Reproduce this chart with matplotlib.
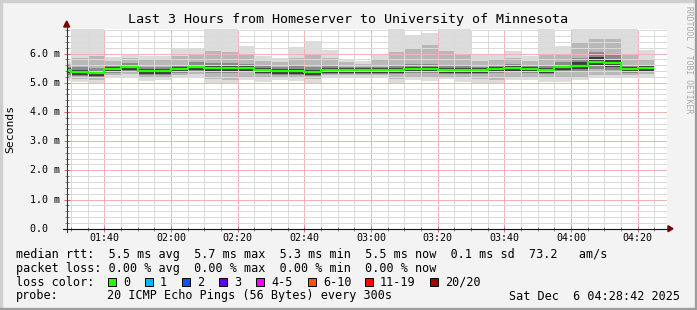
import numpy as np
import matplotlib.pyplot as plt
from matplotlib.patches import Rectangle, Polygon

W, H = 697, 310

# 5 minute steps, minutes after 01:30 (step k covers edges[k]..edges[k+1])
edges = np.arange(-5, 176, 5)

# round trip times in ms
median = [5.42, 5.38, 5.34, 5.47, 5.55, 5.40, 5.40, 5.47, 5.55, 5.49, 5.49, 5.51,
          5.43, 5.41, 5.41, 5.37, 5.43, 5.43, 5.43, 5.43, 5.43, 5.47, 5.47, 5.43,
          5.43, 5.43, 5.47, 5.50, 5.47, 5.43, 5.54, 5.58, 5.72, 5.69, 5.47, 5.51]
ping_min = [5.05, 5.03, 5.00, 5.20, 5.20, 5.06, 5.09, 5.20, 5.20, 5.00, 4.98, 5.10,
            5.03, 5.09, 5.06, 5.00, 5.20, 5.15, 5.15, 5.20, 5.00, 5.09, 5.06, 5.12,
            5.03, 5.00, 4.98, 5.09, 5.10, 5.03, 5.03, 5.09, 5.15, 5.15, 5.20, 5.20]
ping_max = [5.75, 6.90, 6.90, 5.87, 6.00, 5.93, 5.93, 6.14, 6.14, 6.90, 6.90, 6.26,
            5.91, 5.85, 6.23, 6.43, 6.12, 5.80, 5.75, 6.00, 6.90, 6.63, 6.69, 6.90,
            6.90, 5.95, 6.00, 6.08, 5.90, 6.90, 6.26, 6.90, 6.90, 6.90, 6.90, 6.12]
ping_low = [5.15, 5.12, 5.10, 5.28, 5.30, 5.15, 5.18, 5.28, 5.30, 5.12, 5.10, 5.20,
            5.15, 5.18, 5.15, 5.12, 5.27, 5.25, 5.25, 5.28, 5.12, 5.18, 5.15, 5.20,
            5.15, 5.12, 5.10, 5.18, 5.20, 5.15, 5.15, 5.20, 5.25, 5.25, 5.28, 5.30]
ping_high = [5.65, 5.85, 5.90, 5.75, 5.85, 5.80, 5.80, 5.90, 5.95, 6.10, 6.05, 5.95,
             5.75, 5.70, 5.85, 5.95, 5.85, 5.70, 5.65, 5.80, 6.05, 6.20, 6.30, 6.10,
             6.00, 5.75, 5.80, 5.85, 5.75, 6.00, 5.95, 6.35, 6.50, 6.50, 6.00, 5.80]
q_low = [5.28, 5.24, 5.20, 5.34, 5.41, 5.26, 5.26, 5.34, 5.41, 5.34, 5.34, 5.36,
         5.29, 5.28, 5.26, 5.23, 5.30, 5.30, 5.30, 5.31, 5.29, 5.32, 5.32, 5.30,
         5.29, 5.29, 5.32, 5.36, 5.33, 5.29, 5.38, 5.41, 5.46, 5.44, 5.34, 5.38]
q_high = [5.55, 5.55, 5.52, 5.60, 5.68, 5.55, 5.55, 5.62, 5.70, 5.68, 5.66, 5.65,
          5.56, 5.54, 5.56, 5.55, 5.56, 5.54, 5.54, 5.55, 5.60, 5.65, 5.65, 5.60,
          5.58, 5.55, 5.60, 5.64, 5.60, 5.60, 5.70, 5.85, 6.05, 6.00, 5.62, 5.62]
core_low = [5.32, 5.27, 5.23, 5.37, 5.45, 5.29, 5.30, 5.37, 5.45, 5.38, 5.39, 5.41,
            5.33, 5.31, 5.30, 5.27, 5.33, 5.33, 5.33, 5.34, 5.33, 5.37, 5.36, 5.33,
            5.33, 5.33, 5.37, 5.40, 5.37, 5.33, 5.43, 5.46, 5.56, 5.54, 5.37, 5.41]
core_high = [5.49, 5.45, 5.41, 5.53, 5.61, 5.47, 5.47, 5.53, 5.62, 5.56, 5.56, 5.58,
             5.50, 5.48, 5.48, 5.44, 5.50, 5.50, 5.49, 5.50, 5.51, 5.54, 5.54, 5.50,
             5.50, 5.49, 5.53, 5.57, 5.54, 5.50, 5.61, 5.70, 5.87, 5.82, 5.54, 5.58]

tick_pos = [10, 30, 50, 70, 90, 110, 130, 150, 170]
tick_labels = ["01:40", "02:00", "02:20", "02:40", "03:00", "03:20", "03:40", "04:00", "04:20"]
y_ticks = [0, 1, 2, 3, 4, 5, 6]
y_labels = ["0.0  ", "1.0 m", "2.0 m", "3.0 m", "4.0 m", "5.0 m", "6.0 m"]

loss_labels = ["0", "1", "2", "3", "4-5", "6-10", "11-19", "20/20"]
loss_colors = ["#26ff00", "#00b8ff", "#0059ff", "#5e00ff", "#ff00ff", "#ff5500", "#ff0000", "#a00000"]
loss_box_x = [108, 145, 182, 219, 256, 308, 365, 430]

MONO = "DejaVu Sans Mono"


def fx(x):
    return x / W


def fy(y):
    return 1 - y / H


fig = plt.figure(figsize=(W / 100, H / 100), dpi=100, facecolor="#f3f3f3")

# shaded border
fig.patches.append(Rectangle((0, 0), fx(2), 1, transform=fig.transFigure, color="#cfcfcf"))
fig.patches.append(Rectangle((0, fy(2)), 1, 2 / H, transform=fig.transFigure, color="#cfcfcf"))
fig.patches.append(Rectangle((fx(W - 2), 0), fx(2), 1, transform=fig.transFigure, color="#9e9e9e"))
fig.patches.append(Rectangle((0, 0), 1, 2 / H, transform=fig.transFigure, color="#9e9e9e"))

x0, x1, ytop, ybot = 66.7, 666.7, 28.7, 228.7
ax = fig.add_axes([fx(x0), fy(ybot), (x1 - x0) / W, (ybot - ytop) / H])
ax.set_facecolor("white")
ax.set_xlim(-1.3, 178.7)
ax.set_ylim(0, 6.85)

# smoke: outer pings light, inner pings darker
ax.stairs(ping_max, edges, baseline=ping_min, fill=True, color="#dcdcdc", zorder=1)
ax.stairs(ping_high, edges, baseline=ping_low, fill=True, color="#b8b8b8", zorder=1.1)
ax.stairs(q_high, edges, baseline=q_low, fill=True, color="#8a8a8a", zorder=1.2)
ax.stairs(core_high, edges, baseline=core_low, fill=True, color="#3c3c3c", zorder=1.3)
ax.stairs(median, edges, baseline=None, color="#26ff00", lw=1.6, zorder=3)

# grid
ax.set_xticks(tick_pos)
ax.set_xticks(np.arange(0, 179, 5), minor=True)
ax.set_yticks(y_ticks)
ax.set_yticks(np.arange(0, 6.85, 0.2), minor=True)
ax.grid(which="minor", color="#dadada", lw=0.72, ls=(0, (1, 1)), zorder=2, antialiased=False)
ax.grid(which="major", color="#f0b4b4", lw=0.72, ls=(0, (1, 1)), zorder=2.1, antialiased=False)
ax.tick_params(which="major", direction="inout", length=4, color="#d07070", width=0.72,
               labelbottom=False, labelleft=False)
ax.tick_params(which="minor", direction="inout", length=3, color="#888888", width=0.72)
for s in ax.spines.values():
    s.set_visible(False)

for p, lab in zip(tick_pos, tick_labels):
    ax.text(p, -(237.7 - ybot) / 200, lab, transform=ax.get_xaxis_transform(),
            ha="center", va="center", fontsize=7.2, family=MONO)
for v, lab in zip(y_ticks, y_labels):
    ax.text(-(x0 - 59.8) / 600, v, lab, transform=ax.get_yaxis_transform(),
            ha="right", va="center", fontsize=7.2, family=MONO)

# axis lines with arrows
fig.add_artist(plt.Line2D([fx(x0), fx(x0)], [fy(232), fy(26)], color="#333333", lw=0.8))
fig.add_artist(plt.Line2D([fx(63), fx(668)], [fy(ybot), fy(ybot)], color="#111111", lw=0.8))
fig.patches.append(Polygon([(fx(63.7), fy(27)), (fx(69.7), fy(27)), (fx(x0), fy(21))],
                           closed=True, transform=fig.transFigure, color="#7f0000"))
fig.patches.append(Polygon([(fx(668), fy(225.7)), (fx(668), fy(231.7)), (fx(673), fy(ybot))],
                           closed=True, transform=fig.transFigure, color="#7f0000"))

fig.text(fx(348), fy(19), "Last 3 Hours from Homeserver to University of Minnesota",
         ha="center", va="center", fontsize=9.6, family=MONO)
fig.text(fx(10.5), fy(128.7), "Seconds", rotation=90, ha="center", va="center",
         fontsize=8.2, family=MONO)
fig.text(fx(689), fy(6), "RRDTOOL / TOBI OETIKER", rotation=270, ha="center", va="top",
         fontsize=5.8, family=MONO, color="#a8a8a8")

# legend
leg_fs = 8.5
fig.text(fx(16), fy(254.3),
         "median rtt:  5.5 ms avg  5.7 ms max  5.3 ms min  5.5 ms now  0.1 ms sd  73.2   am/s",
         ha="left", va="center", fontsize=leg_fs, family=MONO)
fig.text(fx(16), fy(268.3),
         "packet loss: 0.00 % avg  0.00 % max  0.00 % min  0.00 % now",
         ha="left", va="center", fontsize=leg_fs, family=MONO)
fig.text(fx(16), fy(282.3), "loss color:", ha="left", va="center", fontsize=leg_fs, family=MONO)
for bx, lab, c in zip(loss_box_x, loss_labels, loss_colors):
    fig.patches.append(Rectangle((fx(bx), fy(286.3)), 8 / W, 8 / H, transform=fig.transFigure,
                                 facecolor=c, edgecolor="black", lw=0.7))
    fig.text(fx(bx + 15), fy(282.3), lab, ha="left", va="center", fontsize=leg_fs, family=MONO)
fig.text(fx(16), fy(296), "probe:", ha="left", va="center", fontsize=leg_fs, family=MONO)
fig.text(fx(107), fy(296), "20 ICMP Echo Pings (56 Bytes) every 300s",
         ha="left", va="center", fontsize=leg_fs, family=MONO)
fig.text(fx(680), fy(296), "Sat Dec  6 04:28:42 2025",
         ha="right", va="center", fontsize=leg_fs, family=MONO)

fig.savefig("out.png", dpi=100, facecolor=fig.get_facecolor())
